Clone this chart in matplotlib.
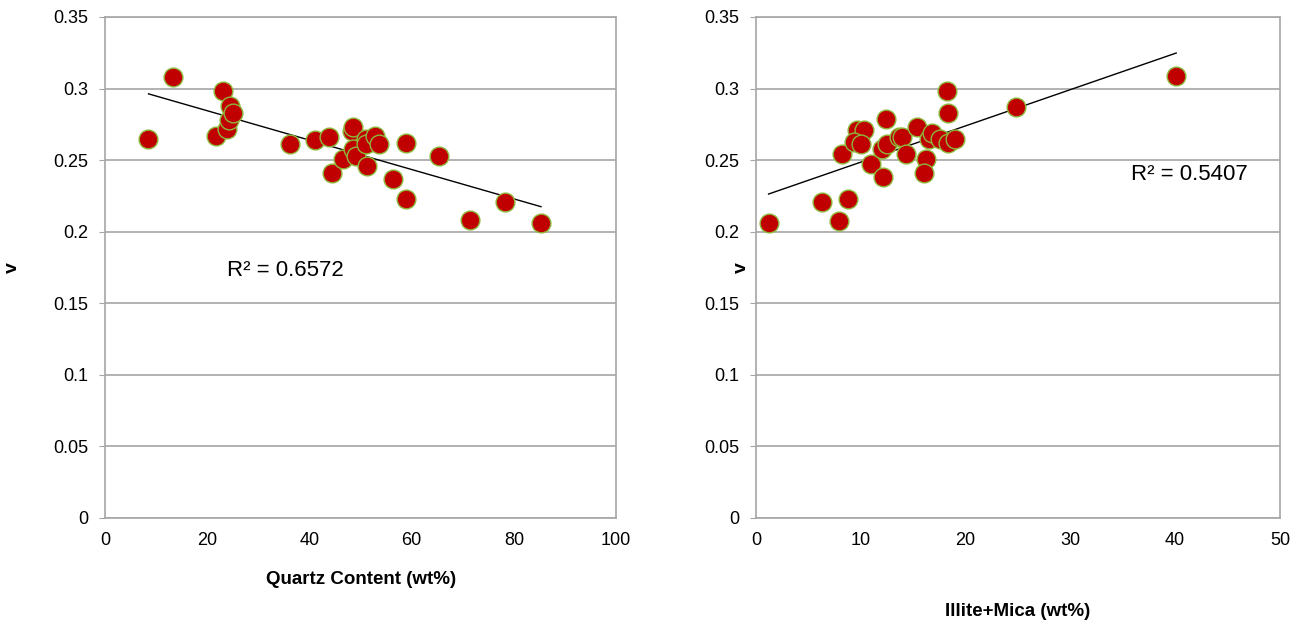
import matplotlib
matplotlib.use("Agg")
import matplotlib.pyplot as plt
import numpy as np

# Poisson's ratio against mineral content
quartz = [8.5, 13.2, 21.8, 23.1, 23.8, 24.3, 24.4, 25.1, 36.1, 41.1,
          43.9, 44.4, 46.5, 48.3, 48.5, 48.5, 49.2, 51.0, 51.0, 51.3,
          52.9, 53.7, 56.4, 58.9, 58.8, 65.4, 71.5, 78.3, 85.3]
v_quartz = [0.265, 0.308, 0.267, 0.298, 0.272, 0.278, 0.288, 0.283, 0.261, 0.264,
            0.266, 0.241, 0.251, 0.270, 0.273, 0.258, 0.253, 0.265, 0.261, 0.246,
            0.267, 0.261, 0.237, 0.262, 0.223, 0.253, 0.208, 0.221, 0.206]

illite_mica = [1.2, 6.3, 7.9, 8.8, 8.2, 9.6, 10.3, 9.35, 10.0, 11.0,
               12.1, 12.0, 12.5, 12.4, 13.6, 13.9, 14.3, 15.4, 16.2, 16.0,
               16.5, 16.8, 17.6, 18.3, 18.3, 19.0, 18.2, 24.8, 40.1]
v_illite = [0.206, 0.221, 0.2075, 0.223, 0.254, 0.271, 0.271, 0.263, 0.261, 0.247,
            0.238, 0.258, 0.261, 0.279, 0.266, 0.266, 0.254, 0.273, 0.251, 0.241,
            0.265, 0.269, 0.265, 0.283, 0.262, 0.265, 0.298, 0.287, 0.309]

r2_quartz = "R² = 0.6572"
r2_illite = "R² = 0.5407"

y_ticks = [0, 0.05, 0.1, 0.15, 0.2, 0.25, 0.3, 0.35]
y_ticklabels = ["0", "0.05", "0.1", "0.15", "0.2", "0.25", "0.3", "0.35"]

plt.rcParams['font.family'] = ['Liberation Sans', 'DejaVu Sans']

fig = plt.figure(figsize=(13.05, 6.24), dpi=100)
ax1 = fig.add_axes([0.0805, 0.1699, 0.3916, 0.8029])
ax2 = fig.add_axes([0.5793, 0.1699, 0.4015, 0.8029])

grid_col = "#A6A6A6"


def style_axes(ax, xmax, xstep):
    ax.set_xlim(0, xmax)
    ax.set_ylim(0, 0.35)
    ax.set_yticks(y_ticks)
    ax.set_yticklabels(y_ticklabels)
    ax.set_xticks(np.arange(0, xmax + xstep / 2, xstep))
    ax.yaxis.grid(True, color=grid_col, linewidth=1.2)
    ax.set_axisbelow(True)
    for s in ax.spines.values():
        s.set_color(grid_col)
        s.set_linewidth(1.2)
    ax.tick_params(axis='y', length=4, color=grid_col, labelsize=13, pad=8)
    ax.tick_params(axis='x', length=0, labelsize=13, pad=10)


def scatter_with_trend(ax, x, y):
    x = np.asarray(x)
    y = np.asarray(y)
    k, b = np.polyfit(x, y, 1)
    xs = np.array([x.min(), x.max()])
    ax.plot(xs, k * xs + b, color="black", linewidth=1, zorder=2)
    ax.plot(x, y, "o", markersize=13.5, markerfacecolor="#C00000",
            markeredgecolor="#8DB83A", markeredgewidth=1, zorder=3)


style_axes(ax1, 100, 20)
scatter_with_trend(ax1, quartz, v_quartz)
ax1.text(35.2, 0.173, r2_quartz, ha="center", va="center", fontsize=16)
ax1.set_xlabel("Quartz Content (wt%)", fontsize=13.5, fontweight="bold", labelpad=16)

style_axes(ax2, 50, 10)
scatter_with_trend(ax2, illite_mica, v_illite)
ax2.text(41.4, 0.2397, r2_illite, ha="center", va="center", fontsize=16)
ax2.set_xlabel("Illite+Mica (wt%)", fontsize=13.5, fontweight="bold", labelpad=39)

# y-axis titles sit close to the tick labels
fig.text(12 / 1305, 1 - 268 / 624, "v", rotation=90, ha="center", va="center",
         fontsize=14, fontweight="bold")
fig.text(741 / 1305, 1 - 268 / 624, "v", rotation=90, ha="center", va="center",
         fontsize=14, fontweight="bold")

fig.savefig("out.png", dpi=100)
